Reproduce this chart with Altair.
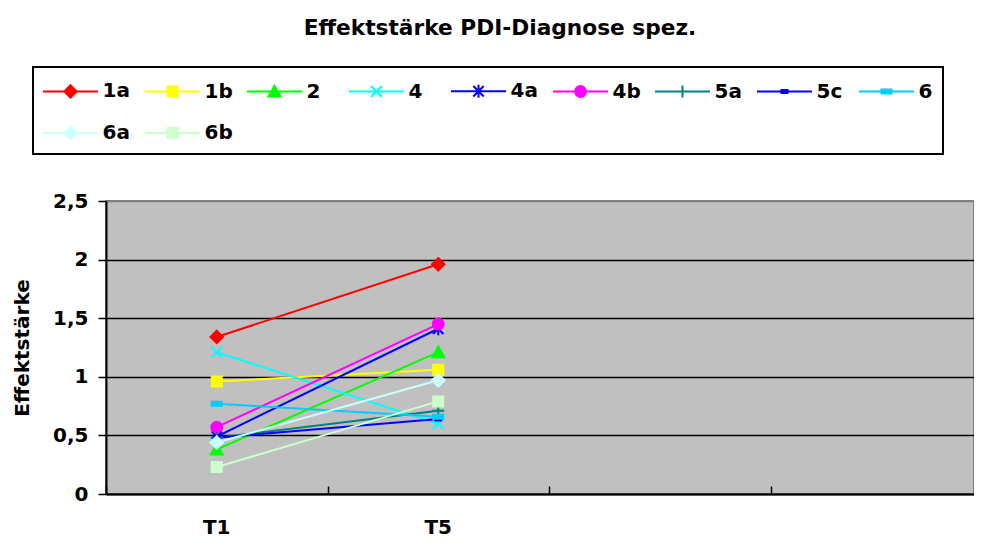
import altair as alt
import pandas as pd

# ---- data ----
series = ["1a", "1b", "2", "4", "4a", "4b", "5a", "5c", "6", "6a", "6b"]
t1_values = [1.34, 0.96, 0.38, 1.21, 0.49, 0.57, 0.48, 0.48, 0.77, 0.44, 0.23]
t5_values = [1.96, 1.06, 1.21, 0.60, 1.41, 1.45, 0.71, 0.64, 0.66, 0.97, 0.79]
times = ["T1", "T5"]
x_slots = ["T1", "T5", "T_c", "T_d"]
y_ticks = [0, 0.5, 1, 1.5, 2, 2.5]

colors = ["#FF0000", "#FFFF00", "#00FF00", "#00FFFF", "#0000FF", "#FF00FF",
          "#008080", "#0000FF", "#00CCFF", "#CCFFFF", "#CCFFCC"]

# marker geometry (unit = 13 px, symbol size 26x26)
DIAMOND = "M0,-0.48L0.48,0L0,0.48L-0.48,0Z"
SQUARE = "M-0.385,-0.385H0.385V0.385H-0.385Z"
TRIANGLE = "M0,-0.44L0.46,0.38L-0.46,0.38Z"
XMARK = "M-0.42,-0.42L0.42,0.42M-0.42,0.42L0.42,-0.42"
STAR = "M-0.4,-0.4L0.4,0.4M-0.4,0.4L0.4,-0.4M0,-0.5L0,0.5"
CIRCLE = "M-0.42,0a0.42,0.42 0 1,0 0.84,0a0.42,0.42 0 1,0 -0.84,0Z"
PLUS = "M-0.46,0L0.46,0M0,-0.46L0,0.46"
DASH_S = "M-0.23,-0.115H0.23V0.115H-0.23Z"
DASH_L = "M-0.385,-0.154H0.385V0.154H-0.385Z"
marker_paths = [DIAMOND, SQUARE, TRIANGLE, XMARK, STAR, CIRCLE, PLUS,
                DASH_S, DASH_L, DIAMOND, SQUARE]
LINE = "M-2.115,0H2.115"
legend_paths = [LINE + p for p in marker_paths]

plot_keys = [s + "_p" for s in series]
domain_all = series + plot_keys

rows = []
for s, k, a, b in zip(series, plot_keys, t1_values, t5_values):
    rows.append({"series": s, "key": k, "time": times[0], "value": a})
    rows.append({"series": s, "key": k, "time": times[1], "value": b})
df = pd.DataFrame(rows)

FONT = "DejaVu Sans"

xscale = alt.Scale(type="band", domain=x_slots, range=[0, 886],
                   paddingInner=0, paddingOuter=0)
yscale = alt.Scale(domain=[0, 2.5], nice=False, zero=True)
cscale = alt.Scale(domain=domain_all, range=colors + colors)
sscale = alt.Scale(domain=domain_all, range=legend_paths + marker_paths)

legend = alt.Legend(
    title=None, orient="none", legendX=-73, legendY=-134, direction="horizontal",
    columns=9, gridAlign="all", columnPadding=10, rowPadding=17,
    padding=10, strokeColor="black", fillColor="white",
    symbolSize=676, symbolStrokeWidth=2, symbolOffset=13.5,
    labelFont=FONT, labelFontSize=20, labelFontWeight="bold", labelColor="black",
    labelOffset=18, values=series, symbolLimit=0,
)

x_bottom = alt.Axis(
    orient="bottom", title=None, ticks=False, labelPadding=23,
    labelExpr="(datum.value == 'T1' || datum.value == 'T5') ? datum.value : ''",
    labelFont=FONT, labelFontSize=20, labelFontWeight="bold", labelColor="black",
    domainColor="black", domainWidth=2, grid=False, labelAngle=0,
)
x_ticks = alt.Axis(
    orient="top", offset=-293, title=None, labels=False, domain=False,
    tickBand="extent", tickSize=8, tickWidth=1.5, tickColor="black", grid=False,
)
y_axis = alt.Axis(
    values=y_ticks, title="Effektstärke",
    labelExpr="replace(toString(datum.value), '.', ',')",
    grid=True,
    gridColor=alt.condition("datum.value >= 2.5", alt.value("#808080"), alt.value("black")),
    gridWidth=1.5, domainColor="black", domainWidth=2, tickColor="black",
    tickSize=8, tickWidth=1.5, labelPadding=10,
    labelFont=FONT, labelFontSize=20, labelFontWeight="bold", labelColor="black",
    titleFont=FONT, titleFontSize=20, titleFontWeight="bold", titleColor="black",
    titlePadding=20,
)

lines = alt.Chart(df).mark_line(strokeWidth=2).encode(
    x=alt.X("time:N", scale=xscale, axis=x_bottom, bandPosition=0.5),
    y=alt.Y("value:Q", scale=yscale, axis=y_axis),
    color=alt.Color("key:N", scale=cscale, legend=None),
)

points = alt.Chart(df).mark_point(filled=True, size=676, strokeWidth=2, opacity=1).encode(
    x=alt.X("time:N", scale=xscale, axis=x_ticks, bandPosition=0.5),
    y=alt.Y("value:Q", scale=yscale, axis=None),
    color=alt.Color("key:N", scale=cscale, legend=legend),
    stroke=alt.Stroke("key:N", scale=cscale, legend=legend),
    shape=alt.Shape("key:N", scale=sscale, legend=legend),
)

chart = alt.layer(lines, points).resolve_axis(
    x="independent", y="independent"
).resolve_legend(
    color="independent", stroke="independent", shape="independent"
).properties(
    width=868, height=293,
    background="white",
    autosize=alt.AutoSizeParams(type="none"),
    padding={"left": 98, "top": 193, "right": 0, "bottom": 43},
    title=alt.TitleParams(
        text="Effektstärke PDI-Diagnose spez.", font=FONT, fontSize=21.7,
        fontWeight="bold", color="black", anchor="middle", frame="group",
        dx=-40, dy=-22,
    ),
).configure_view(
    fill="#C0C0C0", stroke="#808080", strokeWidth=2,
).configure_legend(
    strokeWidth=2,
)

chart.save("out.html", embed_options={"renderer": "svg", "actions": False})
